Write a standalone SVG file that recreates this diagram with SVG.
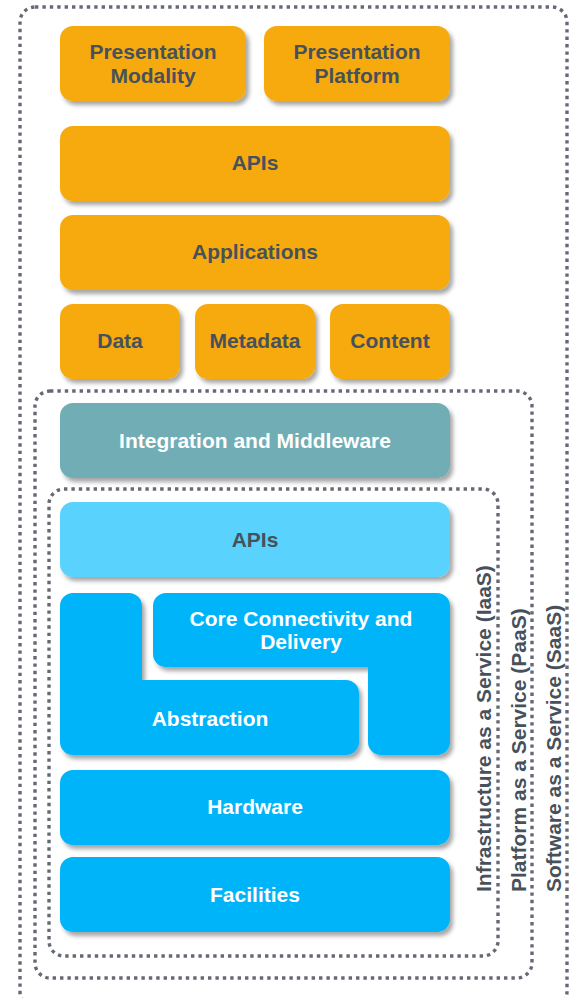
<svg xmlns="http://www.w3.org/2000/svg" width="571" height="998" viewBox="0 0 571 998">
<defs>
<filter id="sh" x="-10%" y="-10%" width="130%" height="140%">
<feDropShadow dx="3" dy="4" stdDeviation="2" flood-color="#000" flood-opacity="0.35"/>
</filter>
<style>
.dot{fill:none;stroke:#656A72;stroke-width:3.4;stroke-dasharray:3.4 4}
.or{fill:#F6AA0B;filter:url(#sh)}
.tl{fill:#6FADB4;filter:url(#sh)}
.lb{fill:#5AD2FE;filter:url(#sh)}
.bl{fill:#00B4FA;filter:url(#sh)}
text{font-family:"Liberation Sans",Arial,sans-serif;font-weight:bold;font-size:21px;text-anchor:middle}
.dk{fill:#47515B}
.wt{fill:#FFFFFF}
.vt{text-anchor:start;fill:#47515B}
</style>
</defs>
<g id="containers">
<rect id="saas" class="dot" x="20" y="7" width="547" height="1000" rx="15"/>
<rect id="paas" class="dot" x="35" y="391" width="497" height="587" rx="15"/>
<rect id="iaas" class="dot" x="49" y="489" width="449" height="467" rx="15"/>
</g>
<g id="n-pres-modality"><rect class="or" x="60" y="26" width="186" height="75" rx="13"/><text class="dk" x="153" y="59">Presentation</text><text class="dk" x="153" y="83">Modality</text></g>
<g id="n-pres-platform"><rect class="or" x="264" y="26" width="186" height="75" rx="13"/><text class="dk" x="357" y="59">Presentation</text><text class="dk" x="357" y="83">Platform</text></g>
<g id="n-apis-top"><rect class="or" x="60" y="126" width="390" height="75" rx="13"/><text class="dk" x="255" y="170">APIs</text></g>
<g id="n-applications"><rect class="or" x="60" y="215" width="390" height="75" rx="13"/><text class="dk" x="255" y="259">Applications</text></g>
<g id="n-data"><rect class="or" x="60" y="304" width="120" height="75" rx="13"/><text class="dk" x="120" y="348">Data</text></g>
<g id="n-metadata"><rect class="or" x="195" y="304" width="120" height="75" rx="13"/><text class="dk" x="255" y="348">Metadata</text></g>
<g id="n-content"><rect class="or" x="330" y="304" width="120" height="75" rx="13"/><text class="dk" x="390" y="348">Content</text></g>
<g id="n-integration"><rect class="tl" x="60" y="403" width="390" height="75" rx="13"/><text class="wt" x="255" y="448">Integration and Middleware</text></g>
<g id="n-apis-blue"><rect class="lb" x="60" y="502" width="390" height="75" rx="13"/><text class="dk" x="255" y="547">APIs</text></g>
<g id="n-abstraction"><path class="bl" d="M73,593 H129 A13,13 0 0 1 142,606 V680 H346 A13,13 0 0 1 359,693 V742 A13,13 0 0 1 346,755 H73 A13,13 0 0 1 60,742 V606 A13,13 0 0 1 73,593 Z"/><text class="wt" x="210" y="726">Abstraction</text></g>
<g id="n-core"><path class="bl" d="M166,593 H437 A13,13 0 0 1 450,606 V742 A13,13 0 0 1 437,755 H381 A13,13 0 0 1 368,742 V667 H166 A13,13 0 0 1 153,654 V606 A13,13 0 0 1 166,593 Z"/><text class="wt" x="301" y="626">Core Connectivity and</text><text class="wt" x="301" y="649">Delivery</text></g>
<g id="n-hardware"><rect class="bl" x="60" y="770" width="390" height="75" rx="13"/><text class="wt" x="255" y="814">Hardware</text></g>
<g id="n-facilities"><rect class="bl" x="60" y="857" width="390" height="75" rx="13"/><text class="wt" x="255" y="902">Facilities</text></g>
<g id="labels">
<text class="vt" transform="translate(491,892) rotate(-90)">Infrastructure as a Service (IaaS)</text>
<text class="vt" transform="translate(526,892) rotate(-90)">Platform as a Service (PaaS)</text>
<text class="vt" transform="translate(561,892) rotate(-90)">Software as a Service (SaaS)</text>
</g>
<g id="connectors"/>
</svg>
